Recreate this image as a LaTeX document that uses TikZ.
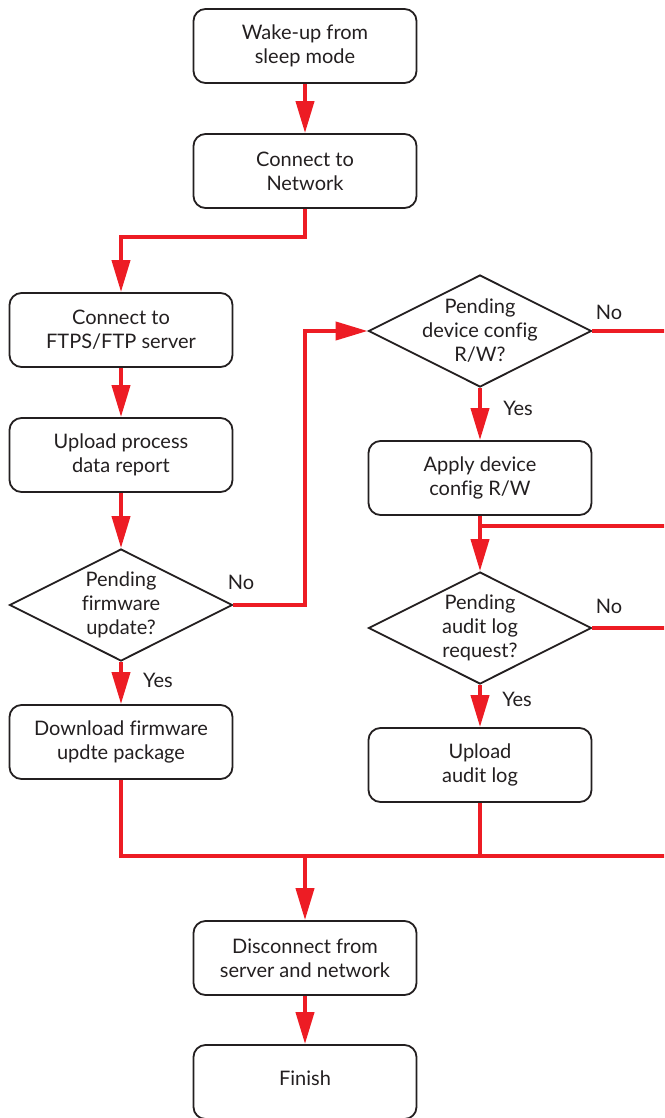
\documentclass[tikz,border=0pt]{standalone}
\usepackage{fontspec}
\setmainfont{Lato}[Ligatures=NoCommon]
\usetikzlibrary{arrows.meta,shapes.geometric,calc}
\definecolor{flowred}{RGB}{237,28,36}
\definecolor{ink}{RGB}{35,31,32}
\tikzset{
  txtfont/.style={font=\fontsize{20}{24}\selectfont},
  stepbox/.style={draw=ink, line width=1.8pt, rounded corners=12pt,
    minimum width=223pt, minimum height=74pt, inner sep=0pt,
    align=center, text=ink, txtfont},
  decision/.style={draw=ink, line width=1.8pt, diamond,
    minimum width=223pt, minimum height=112pt, inner sep=0pt},
  dtext/.style={align=center, text=ink, inner sep=0pt, txtfont},
  answer/.style={text=ink, inner sep=0pt, txtfont},
  wire/.style={draw=flowred, line width=4pt, line join=miter},
  flow/.style={wire, -{Triangle[length=32pt,width=18pt]}},
}
\begin{document}
\begin{tikzpicture}[x=1pt,y=-1pt]
\useasboundingbox (0,0) rectangle (664,1118);
\clip (0,0) rectangle (664,1118);

% main column of steps
\node[stepbox] (wake)  at (305,46)   {Wake-up from\\sleep mode};
\node[stepbox] (net)   at (305,171)  {Connect to\\Network};
\node[stepbox] (ftps)  at (121,330)  {Connect to\\FTPS/FTP server};
\node[stepbox] (upd)   at (121,455)  {Upload process\\data report};
\node[decision] (fw)   at (121,605)  {};
\node[dtext] at (fw) {Pending\\firmware\\update?};
\node[stepbox] (dl)    at (121,742)  {Download firmware\\updte package};

% configuration and audit branch
\node[decision] (cfg)  at (480,331)  {};
\node[dtext] at (cfg) {Pending\\device config\\R/W?};
\node[stepbox] (apply) at (480,478)  {Apply device\\config R/W};
\node[decision] (aud)  at (480,628)  {};
\node[dtext] at (aud) {Pending\\audit log\\request?};
\node[stepbox] (ul)    at (480,765)  {Upload\\audit log};

% closing steps
\node[stepbox] (disc)  at (305,958)  {Disconnect from\\server and network};
\node[stepbox] (fin)   at (305,1082) {\raisebox{8pt}{Finish}};

% collector bus along the right edge and bottom
\coordinate (rb) at (668,856);
\coordinate (j1) at (480,526);

% connectors
\draw[flow] (wake) -- (net);
\draw[flow] (net.south) -- ++(0,28) -| (ftps.north);
\draw[flow] (ftps) -- (upd);
\draw[flow] (upd) -- (fw.north);
\draw[flow] (fw.south) -- (dl.north);
\draw[flow] (fw.east) -- ++(72,0) |- (cfg.west);
\draw[flow] (cfg.south) -- (apply.north);
\draw[flow] (apply.south) -- (aud.north);
\draw[flow] (aud.south) -- (ul.north);
\draw[wire] (cfg.east) -| (rb);
\draw[wire] (j1) -- (j1 -| rb);
\draw[wire] (aud.east) -- (aud.east -| rb);
\draw[wire] (dl.south) |- (rb);
\draw[wire] (ul.south) -- (ul.south |- rb);
\draw[flow] (disc.north |- rb) -- (disc.north);
\draw[flow] (disc) -- (fin);

% branch labels
\node[answer] at (241,582) {No};
\node[answer] at (158,680) {Yes};
\node[answer] at (609,312) {No};
\node[answer] at (518,408) {Yes};
\node[answer] at (609,606) {No};
\node[answer] at (517,699) {Yes};
\end{tikzpicture}
\end{document}
